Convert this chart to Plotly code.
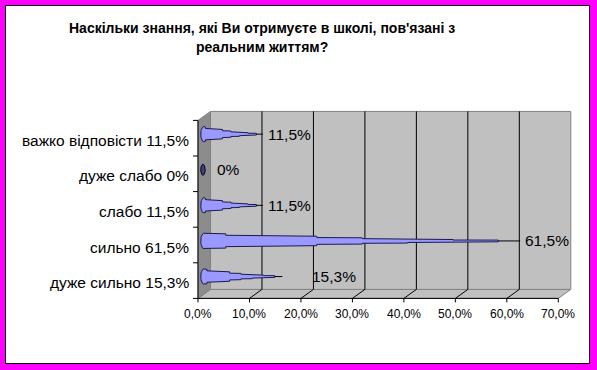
import numpy as np
import plotly.graph_objects as go

# ---------------- data ----------------
categories = ["дуже сильно", "сильно", "слабо", "дуже слабо", "важко відповісти"]  # bottom -> top
values = [15.3, 61.5, 11.5, 0.0, 11.5]
category_labels = ["дуже сильно 15,3%", "сильно 61,5%", "слабо 11,5%", "дуже слабо 0%", "важко відповісти 11,5%"]
value_labels = ["15,3%", "61,5%", "11,5%", "0%", "11,5%"]
x_ticks = [0, 10, 20, 30, 40, 50, 60, 70]
x_tick_labels = ["0,0%", "10,0%", "20,0%", "30,0%", "40,0%", "50,0%", "60,0%", "70,0%"]
title_lines = ["Наскільки знання, які Ви отримуєте в школі, пов'язані з", "реальним життям?"]

# ---------------- layout / style ----------------
W, H = 597, 370
SX = 5.147      # px per percent
SY = 35.6       # px per category
X0 = 198.0      # px of 0 %
Y0 = 280.6      # px of first category centre
XMAX = 70
DX = 12.5 / SX  # depth offset
DY = 9.0 / SY
FONT = "Liberation Sans, Arial, sans-serif"
CONE_FILL = "#9999FF"
CONE_LINE = "#1a1a50"
label_nudge_px = [25, 0, 0, 8, 0]  # extra shift of value labels (bottom -> top)


def px_x(p):
    return p / SX


def px_y(p):
    return p / SY


n = len(categories)
fig = go.Figure()
shapes = []

# white card with black frame over magenta page
shapes.append(dict(type="rect", xref="paper", yref="paper",
                   x0=5.5 / W, x1=589.5 / W, y0=1 - 363.5 / H, y1=1 - 5.5 / H,
                   fillcolor="white", line=dict(color="black", width=1), layer="below"))

ylo, yhi = -0.5, n - 0.5
# floor
shapes.append(dict(type="path", xref="x", yref="y",
                   path=f"M 0,{ylo} L {XMAX},{ylo} L {XMAX + DX},{ylo + DY} L {DX},{ylo + DY} Z",
                   fillcolor="#C0C0C0", line=dict(color="#808080", width=1), layer="below"))
# back wall
shapes.append(dict(type="rect", xref="x", yref="y", x0=DX, x1=XMAX + DX, y0=ylo + DY, y1=yhi + DY,
                   fillcolor="#C0C0C0", line=dict(color="#808080", width=1), layer="below"))
# left wall
shapes.append(dict(type="path", xref="x", yref="y",
                   path=f"M 0,{ylo} L 0,{yhi} L {DX},{yhi + DY} L {DX},{ylo + DY} Z",
                   fillcolor="#8C8C8C", line=dict(color="#808080", width=1), layer="below"))
# back grid lines and floor diagonals
for t in x_ticks[1:-1]:
    shapes.append(dict(type="line", xref="x", yref="y", x0=t + DX, x1=t + DX, y0=ylo + DY, y1=yhi + DY,
                       line=dict(color="black", width=1), layer="below"))
    shapes.append(dict(type="line", xref="x", yref="y", x0=t, x1=t + DX, y0=ylo, y1=ylo + DY,
                       line=dict(color="black", width=1), layer="below"))
# front axes
shapes.append(dict(type="line", xref="x", yref="y", x0=0, x1=XMAX, y0=ylo, y1=ylo,
                   line=dict(color="black", width=1)))
shapes.append(dict(type="line", xref="x", yref="y", x0=0, x1=0, y0=ylo, y1=yhi,
                   line=dict(color="black", width=1)))
for t in x_ticks:
    shapes.append(dict(type="line", xref="x", yref="y", x0=t, x1=t, y0=ylo, y1=ylo - px_y(4),
                       line=dict(color="black", width=1)))
for k in range(n + 1):
    yk = ylo + k
    shapes.append(dict(type="line", xref="x", yref="y", x0=0, x1=-px_x(5), y0=yk, y1=yk,
                       line=dict(color="black", width=1)))

# cones
fr = [0, 0.084, 0.235, 0.39, 0.543, 0.695, 0.848, 1.0]
rel = [1.0, 0.74, 0.66, 0.44, 0.30, 0.20, 0.12]
hh = px_y(7.7)
rx = px_x(3)
annotations = []
for i, v in enumerate(values):
    xs = 0.22 * DX
    yc = i + 0.45 * DY
    if v <= 0:
        t = np.linspace(0, 2 * np.pi, 40)
        ex = xs + px_x(2.2) + px_x(2.2) * np.cos(t)
        ey = yc + px_y(5.5) * np.sin(t)
        fig.add_trace(go.Scatter(x=ex, y=ey, fill="toself", fillcolor="#404090", mode="lines",
                                 line=dict(color="black", width=1), hoverinfo="skip", showlegend=False))
    else:
        body = 0.94 * v
        top_x, top_y = [], []
        for k in range(7):
            xa = xs + fr[k] * body
            if k == 0:
                xa = xs + rx
            xb = xs + fr[k + 1] * body
            top_x += [xa, xb]
            top_y += [rel[k] * hh, rel[k] * hh * 0.93]
        top_x = np.array(top_x)
        top_y = np.array(top_y)
        t = np.linspace(np.pi * 1.5, np.pi * 0.5, 15)
        arc_x = xs + rx + rx * np.cos(t)
        arc_y = hh * np.sin(t)
        px_all = np.concatenate([top_x, top_x[::-1], arc_x])
        py_all = np.concatenate([yc + top_y, yc - top_y[::-1], yc + arc_y])
        fig.add_trace(go.Scatter(x=px_all, y=py_all, fill="toself", fillcolor=CONE_FILL, mode="lines",
                                 line=dict(color=CONE_LINE, width=1), hoverinfo="skip", showlegend=False))
        # leader line
        lx = v + 0.45 * DX
        fig.add_trace(go.Scatter(x=[xs + body, lx], y=[yc, yc], mode="lines",
                                 line=dict(color="black", width=1), hoverinfo="skip", showlegend=False))
    lx = v + 0.45 * DX
    annotations.append(dict(x=lx + px_x(3 + label_nudge_px[i]), y=yc, xref="x", yref="y",
                            text=value_labels[i], showarrow=False, xanchor="left", yanchor="middle",
                            font=dict(family=FONT, size=15.5, color="black")))

# category labels
for i, lab in enumerate(category_labels):
    annotations.append(dict(x=-px_x(7), y=i - px_y(2), xref="x", yref="y", text=lab, showarrow=False,
                            xanchor="right", yanchor="middle",
                            font=dict(family=FONT, size=15.5, color="black")))
# x tick labels
for t, lab in zip(x_ticks, x_tick_labels):
    annotations.append(dict(x=t, y=ylo - px_y(16), xref="x", yref="y", text=lab, showarrow=False,
                            xanchor="center", yanchor="middle",
                            font=dict(family=FONT, size=12, color="black")))
# title
for k, line in enumerate(title_lines):
    annotations.append(dict(x=261.5 / W, y=1 - (27.7 + 19 * k) / H, xref="paper", yref="paper",
                            text=f"<b>{line}</b>", showarrow=False, xanchor="center", yanchor="middle",
                            font=dict(family=FONT, size=14, color="black")))

fig.update_layout(
    width=W, height=H, margin=dict(l=0, r=0, t=0, b=0),
    paper_bgcolor="#FF00FF", plot_bgcolor="rgba(0,0,0,0)",
    xaxis=dict(range=[-X0 / SX, (W - X0) / SX], visible=False, fixedrange=True, domain=[0, 1]),
    yaxis=dict(range=[(Y0 - H) / SY, Y0 / SY], visible=False, fixedrange=True, domain=[0, 1]),
    shapes=shapes, annotations=annotations, showlegend=False,
)
fig.write_html("out.html")
